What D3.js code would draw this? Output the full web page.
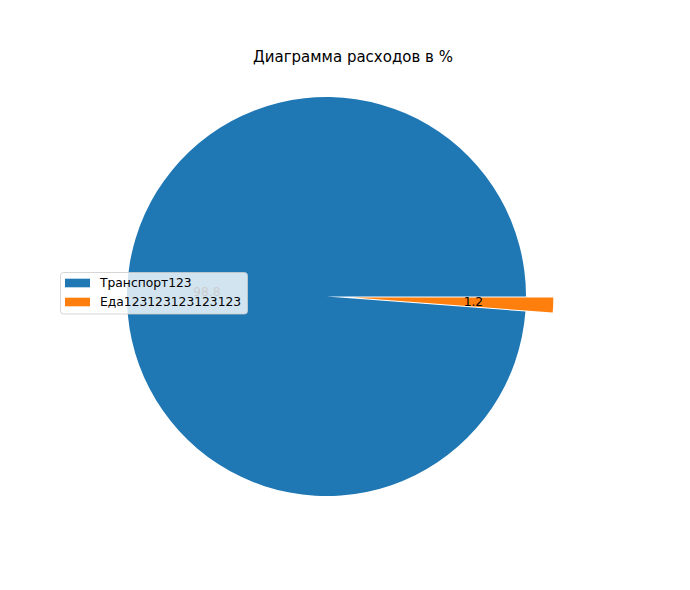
<!DOCTYPE html>
<html>
<head>
<meta charset="utf-8">
<script src="https://cdn.jsdelivr.net/npm/d3@7"></script>
<style>
  html, body { margin: 0; padding: 0; background: #fff; }
  svg { display: block; font-family: "DejaVu Sans", sans-serif; }
</style>
</head>
<body>
<svg id="chart" width="690" height="590"></svg>
<script>
const categories = ["Транспорт123", "Еда123123123123123"];
const values = [98.8, 1.2];
const labels = ["98.8", "1.2"];
const explode = [0, 0.137];
const colors = ["#1f77b4", "#ff7f0e"];
const title = "Диаграмма расходов в %";

const svg = d3.select("#chart");
const cx = 326.5, cy = 296.5, r = 199.5;

const data = categories.map((c, i) => ({ name: c, value: values[i], label: labels[i], explode: explode[i], color: colors[i] }));

// matplotlib style: start at 3 o'clock, counterclockwise
const pie = d3.pie().sort(null).value(d => d.value)
  .startAngle(Math.PI / 2).endAngle(Math.PI / 2 - 2 * Math.PI);
const arcs = pie(data);
const arcGen = d3.arc().innerRadius(0).outerRadius(r);

const g = svg.append("g").attr("transform", `translate(${cx},${cy})`);

arcs.forEach(a => {
  const mid = (a.startAngle + a.endAngle) / 2;
  const off = a.data.explode * r;
  const dx = Math.sin(mid) * off, dy = -Math.cos(mid) * off;
  const sg = g.append("g").attr("transform", `translate(${dx},${dy})`);
  sg.append("path").attr("d", arcGen(a)).attr("fill", a.data.color);
});

arcs.forEach(a => {
  const mid = (a.startAngle + a.endAngle) / 2;
  const off = a.data.explode * r + 0.6 * r;
  g.append("text")
    .attr("x", Math.sin(mid) * off)
    .attr("y", -Math.cos(mid) * off)
    .attr("text-anchor", "middle")
    .attr("dominant-baseline", "central")
    .attr("font-size", 12.3)
    .attr("fill", "#000")
    .text(a.data.label);
});

svg.append("text")
  .attr("x", 353).attr("y", 57)
  .attr("text-anchor", "middle")
  .attr("dominant-baseline", "central")
  .attr("font-size", 15)
  .attr("fill", "#000")
  .text(title);

// legend
const lg = svg.append("g").attr("transform", "translate(60.5,272.5)");
lg.append("rect")
  .attr("width", 187).attr("height", 41.5).attr("rx", 3).attr("ry", 3)
  .attr("fill", "#fff").attr("fill-opacity", 0.8)
  .attr("stroke", "#cccccc").attr("stroke-opacity", 0.8).attr("stroke-width", 1);
const yScale = d3.scalePoint().domain(categories).range([10.5, 29.5]);
categories.forEach((c, i) => {
  const y = yScale(c);
  lg.append("rect").attr("x", 4.5).attr("y", y - 4.3).attr("width", 25).attr("height", 8.6).attr("fill", colors[i]);
  lg.append("text").attr("x", 39.5).attr("y", y).attr("dominant-baseline", "central")
    .attr("font-size", 12.3).attr("fill", "#000").text(c);
});
</script>
</body>
</html>
